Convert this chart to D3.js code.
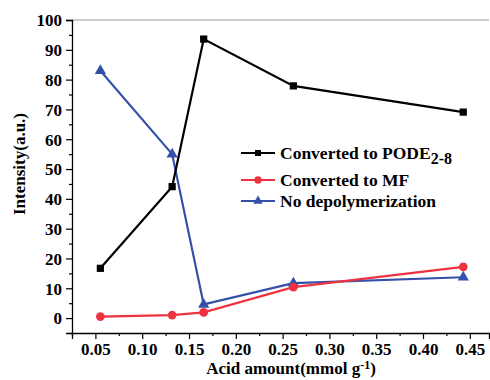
<!DOCTYPE html>
<html>
<head>
<meta charset="utf-8">
<script src="https://cdn.jsdelivr.net/npm/d3@7"></script>
<style>
  html, body { margin: 0; padding: 0; background: #fff; }
</style>
</head>
<body>
<svg id="chart" width="490" height="380"></svg>
<script>
// Acid amount (mmol g-1) for each catalyst sample
const acidAmount = [0.0553, 0.132, 0.1657, 0.2615, 0.443];
// Intensity of each product pathway (a.u.)
const podeValues = [16.7, 44.1, 93.6, 77.9, 69.1];
const mfValues = [0.5, 1.0, 1.9, 10.4, 17.2];
const noDepolyValues = [83.0, 55.0, 4.6, 11.7, 13.7];
const seriesNames = ["Converted to PODE", "Converted to MF", "No depolymerization"];
const xTicks = [0.05, 0.10, 0.15, 0.20, 0.25, 0.30, 0.35, 0.40, 0.45];
const yTicks = [0, 10, 20, 30, 40, 50, 60, 70, 80, 90, 100];

const FONT = "'Liberation Serif', 'Times New Roman', 'DejaVu Serif', serif";

const svg = d3.select("#chart");
const plotLeft = 72, plotRight = 489, plotTop = 20, plotBottom = 333;

const x = d3.scaleLinear().domain([0.025, 0.4705]).range([plotLeft, plotRight]);
const y = d3.scaleLinear().domain([-5, 100]).range([plotBottom, plotTop]);

// frame top line
svg.append("line")
  .attr("x1", plotLeft).attr("x2", plotRight).attr("y1", plotTop).attr("y2", plotTop)
  .attr("stroke", "#999").attr("stroke-width", 1.2);

// y axis: major ticks every 10, minor every 5
const yAxis = svg.append("g").attr("transform", `translate(${plotLeft},0)`)
  .call(d3.axisLeft(y).tickValues(yTicks).tickFormat(d3.format("d")).tickSize(6).tickPadding(4));
svg.append("g").attr("transform", `translate(${plotLeft},0)`)
  .call(d3.axisLeft(y).tickValues(d3.range(-5, 100, 10)).tickFormat("").tickSize(3))
  .select(".domain").remove();

// x axis: major ticks every 0.05, minor halfway
const xAxis = svg.append("g").attr("transform", `translate(0,${plotBottom})`)
  .call(d3.axisBottom(x).tickValues(xTicks).tickFormat(d3.format(".2f")).tickSize(6).tickPadding(4));
svg.append("g").attr("transform", `translate(0,${plotBottom})`)
  .call(d3.axisBottom(x).tickValues(d3.range(0.025, 0.47, 0.05)).tickFormat("").tickSize(3))
  .select(".domain").remove();

svg.selectAll(".domain").attr("stroke", "#000").attr("stroke-width", 1.3);
svg.selectAll(".tick line").attr("stroke", "#000").attr("stroke-width", 1.2);
yAxis.attr("font-family", FONT);
xAxis.attr("font-family", FONT);
yAxis.selectAll("text").attr("font-size", 17).attr("font-weight", "bold").attr("fill", "#000").attr("dy", "0.34em");
xAxis.selectAll("text").attr("font-size", 17).attr("font-weight", "bold").attr("fill", "#000");

// axis titles
svg.append("text")
  .attr("transform", "translate(25,164) rotate(-90)")
  .attr("text-anchor", "middle").attr("font-size", 17).attr("font-weight", "bold")
  .attr("font-family", FONT).attr("fill", "#000")
  .text("Intensity(a.u.)");

const xt = svg.append("text")
  .attr("x", 291).attr("y", 374)
  .attr("text-anchor", "middle").attr("font-size", 17).attr("font-weight", "bold")
  .attr("font-family", FONT).attr("fill", "#000");
xt.append("tspan").text("Acid amount(mmol g");
xt.append("tspan").attr("dy", -5).attr("font-size", 12).text("-1");
xt.append("tspan").attr("dy", 5).text(")");

const series = [
  { name: seriesNames[0], values: podeValues, color: "#000000", symbol: d3.symbolSquare, size: 52 },
  { name: seriesNames[1], values: mfValues, color: "#ee3340", symbol: d3.symbolCircle, size: 60 },
  { name: seriesNames[2], values: noDepolyValues, color: "#3550a8", symbol: d3.symbolTriangle, size: 55 }
];

const line = d3.line().x(d => x(d[0])).y(d => y(d[1]));

// draw in reverse so black sits on top
[series[2], series[1], series[0]].forEach(s => {
  const pts = acidAmount.map((a, i) => [a, s.values[i]]);
  svg.append("path").datum(pts)
    .attr("d", line).attr("fill", "none")
    .attr("stroke", s.color).attr("stroke-width", 2.2);
  svg.selectAll(null).data(pts).enter().append("path")
    .attr("d", d3.symbol().type(s.symbol).size(s.size))
    .attr("transform", d => `translate(${x(d[0])},${y(d[1])})`)
    .attr("fill", s.color);
});

// legend
const legendRows = [153, 180, 201];
series.forEach((s, i) => {
  const ly = legendRows[i];
  svg.append("line").attr("x1", 241).attr("x2", 275).attr("y1", ly).attr("y2", ly)
    .attr("stroke", s.color).attr("stroke-width", 2.2);
  svg.append("path")
    .attr("d", d3.symbol().type(s.symbol).size(s.size * 0.7))
    .attr("transform", `translate(258,${ly})`).attr("fill", s.color);
  const t = svg.append("text").attr("x", 280).attr("y", ly + 6)
    .attr("font-size", 17.5).attr("font-weight", "bold")
    .attr("font-family", FONT).attr("fill", "#000");
  t.append("tspan").text(s.name);
  if (i === 0) t.append("tspan").attr("dy", 5).attr("font-size", 16).text("2-8");
});
</script>
</body>
</html>
